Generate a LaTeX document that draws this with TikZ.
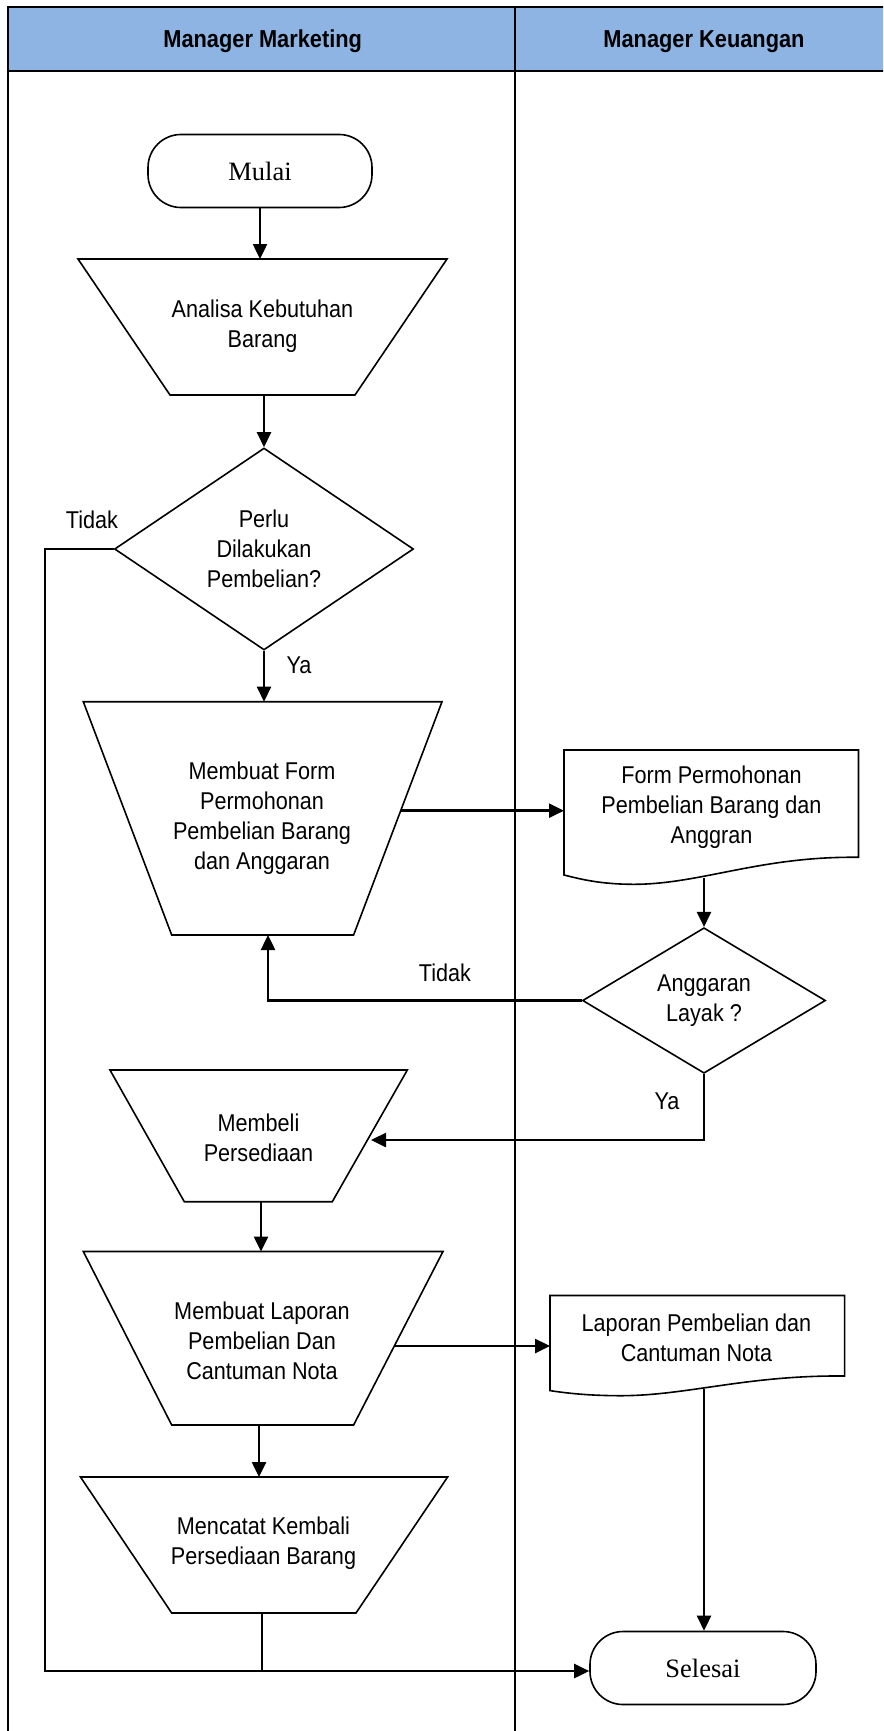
\documentclass[tikz,border=0pt]{standalone}
\usepackage{fontspec}
\setmainfont{Liberation Sans}
\newfontfamily\flowfont[FakeStretch=0.89]{Liberation Sans}
\newfontfamily\termfont{Liberation Serif}
\usetikzlibrary{arrows.meta,shapes.geometric}
\definecolor{laneblue}{HTML}{8DB4E3}

\begin{document}
\begin{tikzpicture}[x=1pt,y=-1pt,
  lane/.style={line width=2pt},
  divider/.style={line width=1.5pt},
  shapeline/.style={draw, line width=1.6pt, line join=miter},
  txt/.style={align=center, inner sep=0pt, font=\flowfont\fontsize{24.3}{30}\selectfont},
  head/.style={inner sep=0pt, anchor=base, font=\flowfont\bfseries\fontsize{24.5}{30}\selectfont},
  lbl/.style={inner sep=0pt, font=\flowfont\fontsize{24.3}{30}\selectfont},
  term/.style={draw, line width=1.6pt, rounded corners=33pt, minimum height=73pt,
    inner sep=0pt, font=\termfont\fontsize{26.5}{30}\selectfont},
  decision/.style={diamond, draw, line width=1.6pt, inner sep=0pt, align=center,
    font=\flowfont\fontsize{24.3}{30}\selectfont},
  flow/.style={line width=2.5pt, -{Triangle[length=15pt,width=14pt]}},
  link/.style={line width=2.5pt}
]
\useasboundingbox (0,0) rectangle (883,1731);
\clip (0,0) rectangle (883,1731);

% swimlane frame
\fill[laneblue] (8,7) rectangle (893,70.7);
\draw[lane] (8,7) rectangle (893,1745);
\draw[lane] (8,70.7) -- (893,70.7);
\draw[divider] (515,7) -- (515,1745);
\node[head] (laneA) at (262.7,47.5) {Manager Marketing};
\node[head] (laneB) at (704,47.5) {Manager Keuangan};

% start
\node[term, minimum width=224pt] (start) at (260,171) {Mulai};

% Analisa Kebutuhan Barang
\draw[shapeline] (78,259) -- (447,259) -- (355,395) -- (170,395) -- cycle;
\node[txt] (anl) at (262.5,326) {Analisa Kebutuhan\\Barang};
\coordinate (anl-top) at (260,259);
\coordinate (anl-bot) at (264,396);

% decision: purchase needed?
\node[decision, minimum width=299pt, minimum height=202pt] (d1) at (264,549)
  {Perlu\\Dilakukan\\Pembelian?};
\node[lbl] (tidak1) at (92,520) {Tidak};
\node[lbl] (ya1) at (299,665) {Ya};

% Membuat Form Permohonan
\draw[shapeline] (83.3,701.7) -- (442,701.7) -- (353.6,935) -- (171.7,935) -- cycle;
\node[txt] (form) at (262,818.5) {Membuat Form\\Permohonan\\Pembelian Barang\\dan Anggaran};
\coordinate (form-top) at (264,701.7);
\coordinate (form-bot) at (268,935);
\coordinate (form-right) at (400.7,810.7);

% document: form
\draw[shapeline] (564,750) -- (858.5,750) -- (858.5,857.3)
  .. controls (760,856) and (700,884.5) .. (633,884.3)
  .. controls (600,884.2) and (580,879) .. (564,875) -- cycle;
\node[txt] (doc1) at (711.5,807) {Form Permohonan\\Pembelian Barang dan\\Anggran};
\coordinate (doc1-left) at (564,810.7);
\coordinate (doc1-bot) at (704,878);

% decision: budget feasible?
\node[decision, minimum width=243pt, minimum height=138pt] (d2) at (704,1000.5)
  {Anggaran\\Layak ?};
\node[lbl] (tidak2) at (445,972.7) {Tidak};
\node[lbl] (ya2) at (667,1101) {Ya};

% Membeli Persediaan
\draw[shapeline] (110,1070) -- (407.3,1070) -- (332.3,1201.7) -- (184.3,1201.7) -- cycle;
\node[txt] (buy) at (258.5,1137.4) {Membeli\\Persediaan};
\coordinate (buy-right) at (371,1140);
\coordinate (buy-bot) at (261,1201.7);

% Membuat Laporan
\draw[shapeline] (83.3,1251.5) -- (443,1251.5) -- (353.6,1425) -- (171.7,1425) -- cycle;
\node[txt] (rep) at (262,1340.5) {Membuat Laporan\\Pembelian Dan\\Cantuman Nota};
\coordinate (rep-top) at (261,1251.5);
\coordinate (rep-bot) at (259,1425);
\coordinate (rep-right) at (394.3,1346);

% document: report
\draw[shapeline] (550,1295.5) -- (844.6,1295.5) -- (844.6,1376)
  .. controls (746,1375) and (686,1396) .. (619,1395.7)
  .. controls (586,1395.5) and (566,1393) .. (550,1390.6) -- cycle;
\node[txt] (doc2) at (696.5,1337.5) {Laporan Pembelian dan\\Cantuman Nota};
\coordinate (doc2-left) at (550,1346);
\coordinate (doc2-bot) at (704,1389);

% Mencatat Kembali
\draw[shapeline] (80.5,1477) -- (447.6,1477) -- (356,1613) -- (171.7,1613) -- cycle;
\node[txt] (rec) at (263.5,1543) {Mencatat Kembali\\Persediaan Barang};
\coordinate (rec-top) at (259,1477);
\coordinate (rec-bot) at (262,1613);

% end
\node[term, minimum width=226pt] (end) at (703,1668) {Selesai};
\coordinate (loopL) at (45,1671);

% connectors
\draw[flow] (start.south -| anl-top) -- (anl-top);
\draw[flow] (anl-bot) -- (d1.north);
\draw[flow] (d1.west) -| (loopL) -- (loopL -| end.west);
\draw[flow] (d1.south) -- (form-top);
\draw[flow] (form-right) -- (doc1-left);
\draw[flow] (doc1-bot) -- (d2.north);
\draw[flow] (d2.west) -| (form-bot);
\draw[flow] (d2.south) |- (buy-right);
\draw[flow] (buy-bot) -- (buy-bot |- rep-top);
\draw[flow] (rep-right) -- (doc2-left);
\draw[flow] (rep-bot) -- (rep-bot |- rec-top);
\draw[flow] (doc2-bot) -- (doc2-bot |- end.north);
\draw[link] (rec-bot) -- (rec-bot |- loopL);
\end{tikzpicture}
\end{document}
